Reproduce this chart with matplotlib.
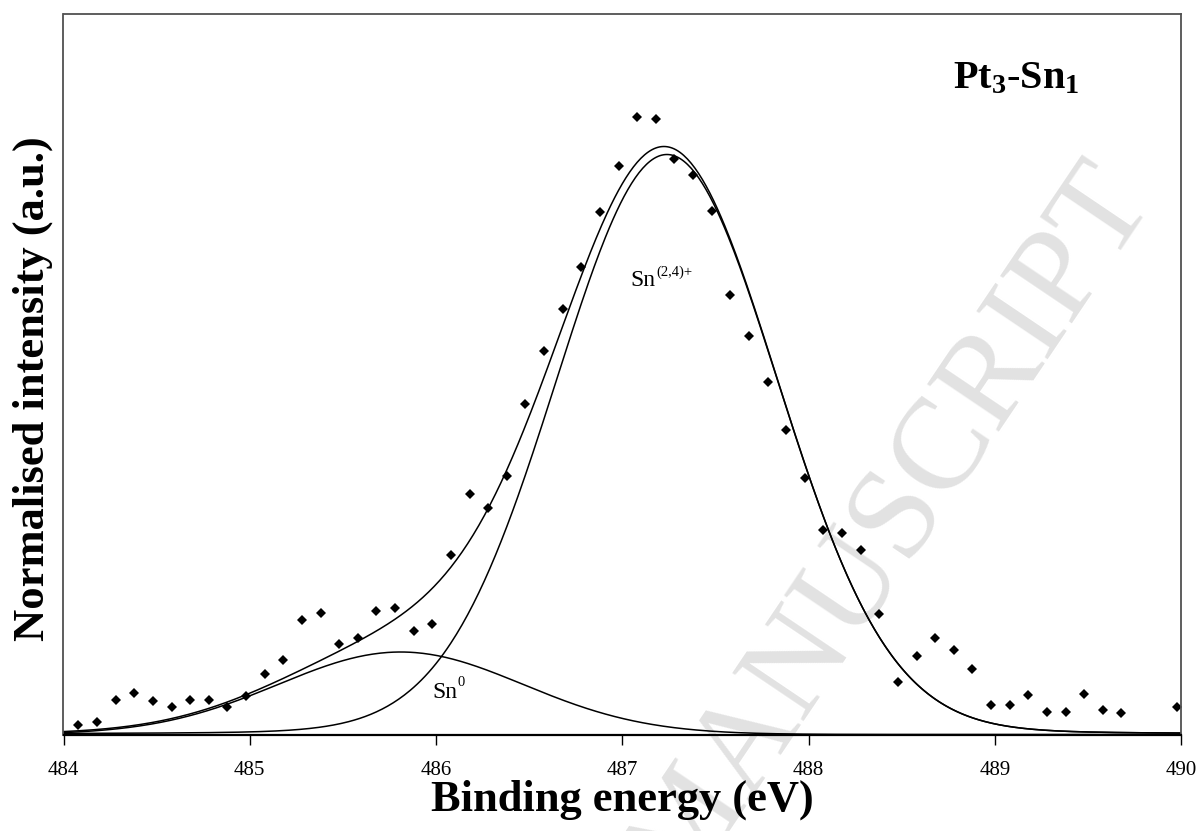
import numpy as np
import matplotlib.pyplot as plt

plt.rcParams['font.family'] = ['Liberation Serif', 'DejaVu Serif']
plt.rcParams['mathtext.fontset'] = 'custom'
plt.rcParams['mathtext.rm'] = 'Liberation Serif'
plt.rcParams['mathtext.bf'] = 'Liberation Serif:bold'
plt.rcParams['mathtext.it'] = 'Liberation Serif:italic'

# measured Sn 3d5/2 spectrum (binding energy in eV, intensity in a.u.)
energy = [484.08, 484.18, 484.28, 484.38, 484.48, 484.58, 484.68, 484.78, 484.88, 484.98,
          485.08, 485.18, 485.28, 485.38, 485.48, 485.58, 485.68, 485.78, 485.88, 485.98,
          486.08, 486.18, 486.28, 486.38, 486.48, 486.58, 486.68, 486.78, 486.88, 486.98,
          487.08, 487.18, 487.28, 487.38, 487.48, 487.58, 487.68, 487.78, 487.88, 487.98,
          488.08, 488.18, 488.28, 488.38, 488.48, 488.58, 488.68, 488.78, 488.88, 488.98,
          489.08, 489.18, 489.28, 489.38, 489.48, 489.58, 489.68, 489.98]
intensity = [9.5, 12.5, 34.5, 41.8, 33.8, 27.2, 34.5, 34.5, 27.8, 38.5,
             60.8, 74.5, 114.5, 121.2, 90.2, 96.5, 123.2, 126.2, 103.2, 110.2,
             179.8, 240.2, 226.5, 258.5, 330.5, 383.8, 425.5, 467.5, 522.2, 568.5,
             617.8, 615.5, 575.8, 559.5, 523.8, 439.8, 398.8, 352.2, 304.5, 256.8,
             204.5, 201.2, 184.5, 120.8, 52.5, 78.5, 96.2, 84.5, 65.5, 29.5,
             29.5, 39.5, 22.2, 22.8, 40.5, 24.5, 21.8, 27.8]

# fitted components: centre (eV), height (a.u.), FWHM (eV), Lorentzian fraction
sn0_fit = (485.81, 82.5, 1.55, 0.0)
snox_fit = (487.24, 580.0, 1.41, 0.04)

x_ticks = [484, 485, 486, 487, 488, 489, 490]


def gl_peak(x, centre, height, fwhm, frac):
    t = (x - centre) / fwhm
    return height * ((1 - frac) * np.exp(-4 * np.log(2) * t ** 2) + frac / (1 + 4 * t ** 2))


be = np.linspace(484, 490, 601)
sn0 = gl_peak(be, *sn0_fit)
snox = gl_peak(be, *snox_fit)
envelope = sn0 + snox

W, H = 1203, 831
fig = plt.figure(figsize=(W / 100, H / 100), dpi=100)
ax = fig.add_axes([63.5 / W, 1 - 734.5 / H, (1181 - 63.5) / W, (734.5 - 14) / H])


def fpos(px, py):
    return px / W, 1 - py / H


ax.plot(be, envelope, color='k', lw=1.1)
ax.plot(be, snox, color='k', lw=1.1)
ax.plot(be, sn0, color='k', lw=1.1)
ax.plot(energy, intensity, 'D', color='k', ms=5, mew=0, clip_on=False)

ax.set_xlim(484, 490)
ax.set_ylim(0, 720.5)
ax.set_xticks(x_ticks)
ax.set_xticklabels([str(t) for t in x_ticks])
ax.set_yticks([])
ax.tick_params(axis='x', direction='out', length=7, width=1, labelsize=15, pad=12)

for side in ['top', 'left', 'right']:
    ax.spines[side].set_color('#505050')
    ax.spines[side].set_linewidth(1.3)
ax.spines['bottom'].set_color('k')
ax.spines['bottom'].set_linewidth(1.6)

# peak labels
fig.text(*fpos(630.7, 286), 'Sn', fontsize=17, ha='left', va='baseline')
fig.text(*fpos(656.5, 276), '(2,4)+', fontsize=10.5, ha='left', va='baseline')
fig.text(*fpos(432.7, 698.3), 'Sn', fontsize=17, ha='left', va='baseline')
fig.text(*fpos(457.5, 686), '0', fontsize=10.5, ha='left', va='baseline')

fig.text(*fpos(1016, 88), r'Pt$_\mathbf{3}$-Sn$_\mathbf{1}$',
         fontsize=29, fontweight='bold', ha='center', va='baseline')

fig.text(*fpos(622, 811), 'Binding energy (eV)', fontsize=32, fontweight='bold',
         ha='center', va='baseline')
fig.text(*fpos(44, 389), 'Normalised intensity (a.u.)', fontsize=32, fontweight='bold',
         ha='center', va='baseline', rotation=90, rotation_mode='anchor')

# watermark
ax.text(*fpos(1155, 200), 'ACCEPTED MANUSCRIPT', transform=fig.transFigure,
        fontsize=94, color='#e2e2e2', ha='right', va='baseline', rotation=56,
        rotation_mode='anchor', zorder=0, clip_on=False)

fig.savefig('out.png', dpi=100)
